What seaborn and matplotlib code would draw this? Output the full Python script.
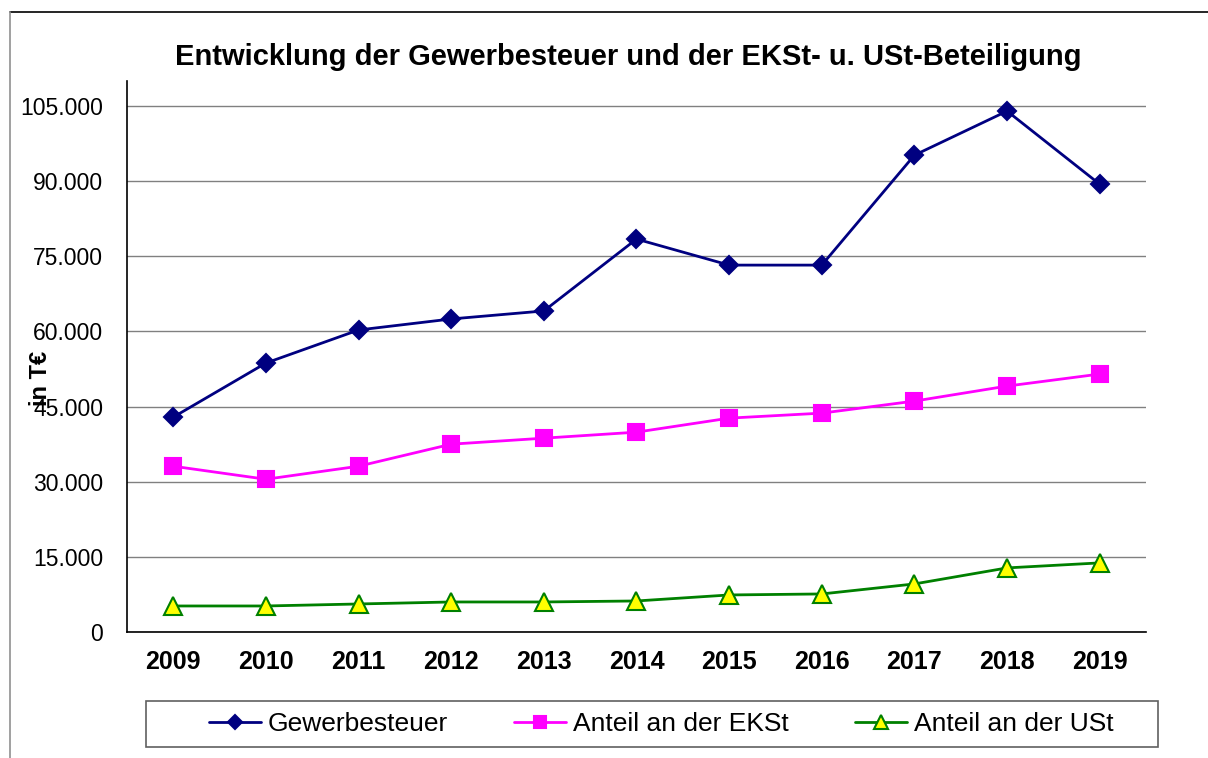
import pandas as pd
import matplotlib
matplotlib.use("Agg")
import matplotlib.pyplot as plt
import seaborn as sns
from matplotlib.lines import Line2D
from matplotlib.patches import Rectangle
from matplotlib.ticker import FuncFormatter, MultipleLocator

# values in T€
years = ["2009", "2010", "2011", "2012", "2013", "2014",
         "2015", "2016", "2017", "2018", "2019"]
gewerbesteuer = [42900, 53700, 60300, 62500, 64100, 78450,
                 73250, 73250, 95200, 104000, 89400]
anteil_ekst = [33100, 30500, 33100, 37500, 38700, 39900,
               42700, 43700, 46100, 49100, 51500]
anteil_ust = [5200, 5200, 5600, 6000, 6000, 6200,
              7400, 7600, 9600, 12800, 13800]

series_names = ["Gewerbesteuer", "Anteil an der EKSt", "Anteil an der USt"]

sns.set_style("white")
plt.rcParams["font.family"] = ["Liberation Sans", "DejaVu Sans"]
plt.rcParams.update({"text.color": "black", "axes.labelcolor": "black",
                     "xtick.color": "black", "ytick.color": "black"})

df = pd.DataFrame({
    "Jahr": years * 3,
    "Wert": gewerbesteuer + anteil_ekst + anteil_ust,
    "Reihe": [series_names[0]] * len(years) + [series_names[1]] * len(years)
             + [series_names[2]] * len(years),
})

fig = plt.figure(figsize=(12.08, 7.58), dpi=100)
ax = fig.add_axes([0.1051, 0.1662, 0.8436, 0.7269])

styles = {
    series_names[0]: dict(color="#000080", marker="D", mfc="#000080", mec="#000080", ms=9, lms=7),
    series_names[1]: dict(color="#FF00FF", marker="s", mfc="#FF00FF", mec="#FF00FF", ms=11, lms=8),
    series_names[2]: dict(color="#008000", marker="^", mfc="#FFFF00", mec="#008000", ms=13, lms=10),
}
for name in series_names:
    st = styles[name]
    sns.lineplot(data=df[df["Reihe"] == name], x="Jahr", y="Wert", ax=ax,
                 color=st["color"], marker=st["marker"], markersize=st["ms"],
                 markerfacecolor=st["mfc"], markeredgecolor=st["mec"],
                 markeredgewidth=1.5, linewidth=2, label=name, legend=False)

ax.set_xlim(-0.5, len(years) - 0.5)
ax.set_ylim(0, 110000)
ax.yaxis.set_major_locator(MultipleLocator(15000))
ax.yaxis.set_major_formatter(FuncFormatter(lambda v, p: f"{int(v):,}".replace(",", ".")))
ax.grid(axis="y", color="#808080", linewidth=1)
ax.set_axisbelow(True)

# category labels at centres, tick marks at the boundaries
ax.set_xticks(range(len(years)))
ax.set_xticklabels(years, fontsize=18, fontweight="bold")
ax.tick_params(axis="x", which="major", length=0, pad=13)
ax.set_xticks([i - 0.5 for i in range(len(years) + 1)], minor=True)
ax.tick_params(axis="x", which="minor", length=7, width=1, color="black", direction="out")
ax.tick_params(axis="y", length=7, width=1, color="#808080", direction="out",
               labelsize=16.5, pad=10)

for side in ["top", "right"]:
    ax.spines[side].set_visible(False)
for side in ["left", "bottom"]:
    ax.spines[side].set_color("black")
    ax.spines[side].set_linewidth(1.2)

ax.set_xlabel("")
ax.set_ylabel("in T€", fontsize=17, fontweight="bold")
ax.yaxis.set_label_coords(-0.074, 0.461)

fig.text(0.52, 0.925, "Entwicklung der Gewerbesteuer und der EKSt- u. USt-Beteiligung",
         ha="center", va="center", fontsize=21, fontweight="bold")

handles = []
for name in series_names:
    st = styles[name]
    handles.append(Line2D([], [], color=st["color"], marker=st["marker"], markersize=st["lms"],
                          markerfacecolor=st["mfc"], markeredgecolor=st["mec"],
                          markeredgewidth=1.5, linewidth=2))
fig.legend(handles, series_names, ncol=3, loc="center",
           bbox_to_anchor=(661 / 1208, 1 - 724 / 758), fontsize=19,
           frameon=False, handlelength=1.97, handletextpad=0.27,
           columnspacing=2.5, borderpad=0.3)
fig.add_artist(Rectangle((146 / 1208, 1 - 747 / 758), 1012 / 1208, 46 / 758,
                         transform=fig.transFigure, fill=False,
                         edgecolor="#606060", linewidth=1.2))

# outer chart border
fig.add_artist(Line2D([10 / 1208, 1.0], [1 - 12 / 758, 1 - 12 / 758],
                      transform=fig.transFigure, color="black", linewidth=1.2))
fig.add_artist(Line2D([10 / 1208, 10 / 1208], [0.0, 1 - 12 / 758],
                      transform=fig.transFigure, color="#909090", linewidth=1.2))

fig.savefig("out.png", dpi=100)
